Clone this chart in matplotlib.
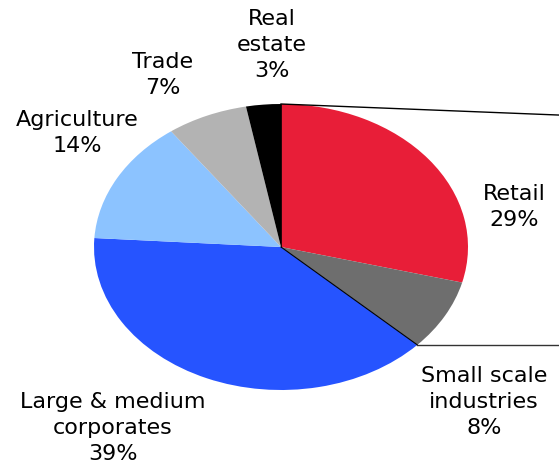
import numpy as np
import matplotlib.pyplot as plt

# Data
sectors = ["Retail", "Small scale\nindustries", "Large & medium\ncorporates",
           "Agriculture", "Trade", "Real\nestate"]
shares = [29, 8, 39, 14, 7, 3]
colors = ["#E81E38", "#6E6E6E", "#2654FF", "#8CC3FF", "#B3B3B3", "#000000"]
# label centres in pixels from top-left
label_pos = [(514, 207), (484, 402), (113, 428), (77, 133), (163, 75), (272, 45)]

W, H = 559, 468
fig = plt.figure(figsize=(W / 100, H / 100), dpi=100)
ax = fig.add_axes([0, 0, 1, 1])

ax.pie(shares, colors=colors, startangle=90, counterclock=False,
       radius=1, center=(0, 0), wedgeprops=dict(linewidth=0))

# stretch the pie into an ellipse like the original
cx, cy, rx, ry = 281, 247, 187, 143
ax.set_aspect("auto")
ax.set_xlim(-cx / rx, (W - cx) / rx)
ax.set_ylim(-(H - cy) / ry, cy / ry)
ax.axis("off")

# connector lines towards the (cropped) second pie
ang = np.radians(90 - (shares[0] + shares[1]) / 100 * 360)
ex, ey = np.cos(ang), np.sin(ang)
ax.plot([0, ex], [0, ey], color="black", lw=0.8)
ax.plot([ex, 2.0], [ey, ey], color="#333333", lw=1.0)
ax.plot([0, 2.0], [1, 1 - 0.052 * 2.0], color="black", lw=1.0)
ax.plot([0, 0], [0, 1], color="black", lw=0.6)

for name, val, (px, py) in zip(sectors, shares, label_pos):
    ax.text(px / W, 1 - py / H, f"{name}\n{val}%", transform=ax.transAxes,
            ha="center", va="center", fontsize=16, linespacing=1.35,
            family="DejaVu Sans", color="black")

fig.savefig("out.png", dpi=100)
